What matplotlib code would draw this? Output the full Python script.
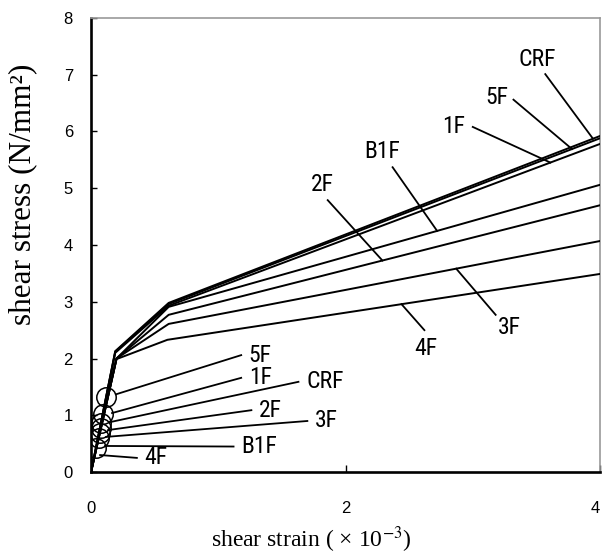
import matplotlib
matplotlib.use("Agg")
import matplotlib.pyplot as plt
import numpy as np
from matplotlib import font_manager

# series names and trilinear skeleton curves (strain x10^-3, stress N/mm2)
series = ["CRF", "5F", "1F", "B1F", "2F", "3F", "4F"]
knee1_strain = [0.19, 0.19, 0.19, 0.20, 0.20, 0.20, 0.20]
knee1_stress = [2.13, 2.12, 2.10, 2.00, 2.00, 2.00, 1.99]
knee2_strain = [0.61, 0.61, 0.61, 0.61, 0.61, 0.61, 0.60]
knee2_stress = [2.98, 2.96, 2.93, 2.91, 2.77, 2.61, 2.33]
end_strain = [4.0, 4.0, 4.0, 4.0, 4.0, 4.0, 4.0]
end_stress = [5.92, 5.88, 5.78, 5.06, 4.70, 4.07, 3.49]

# cracking stress marked with circles on the initial branch
crack_stress = [0.86, 1.32, 1.02, 0.60, 0.78, 0.69, 0.42]

# label layout: upper labels (text pos, leader start, strain where leader hits curve)
upper_text = {"CRF": (3.51, 7.26), "5F": (3.19, 6.59), "1F": (2.85, 6.08),
              "B1F": (2.29, 5.64), "2F": (1.82, 5.06), "3F": (3.29, 2.54),
              "4F": (2.63, 2.18)}
upper_from = {"CRF": (3.57, 7.01), "5F": (3.32, 6.56), "1F": (3.00, 6.08),
              "B1F": (2.37, 5.37), "2F": (1.86, 4.79), "3F": (3.18, 2.77),
              "4F": (2.62, 2.50)}
upper_hit = {"CRF": 3.945, "5F": 3.78, "1F": 3.61, "B1F": 2.72, "2F": 2.29,
             "3F": 2.87, "4F": 2.44}
# lower labels: leader start near circle, leader end (text starts right of it)
lower_from = {"5F": (0.196, 1.37), "1F": (0.165, 1.04), "CRF": (0.149, 0.88),
              "2F": (0.134, 0.74), "3F": (0.118, 0.62), "B1F": (0.11, 0.46),
              "4F": (0.071, 0.30)}
lower_end = {"5F": (1.18, 2.06), "1F": (1.18, 1.66), "CRF": (1.63, 1.59),
             "2F": (1.26, 1.09), "3F": (1.70, 0.90), "B1F": (1.12, 0.45),
             "4F": (0.36, 0.25)}

installed = {f.name for f in font_manager.fontManager.ttflist}
label_font = "Roboto"
for cand in ["Liberation Sans Narrow", "Roboto Condensed", "DejaVu Sans Condensed"]:
    if cand in installed:
        label_font = cand
        break

plt.rcParams["mathtext.fontset"] = "stix"

fig = plt.figure(figsize=(6.03, 5.60), dpi=100)
ax = fig.add_axes([0.151, 0.157, 0.844, 0.811])

curves = {}
for i, name in enumerate(series):
    xs = [0.0, knee1_strain[i], knee2_strain[i], end_strain[i]]
    ys = [0.0, knee1_stress[i], knee2_stress[i], end_stress[i]]
    curves[name] = (xs, ys)
    ax.plot(xs, ys, color="black", lw=1.4, solid_joinstyle="miter", zorder=3)

# crack points with leaders
for i, name in enumerate(series):
    xs, ys = curves[name]
    cy = crack_stress[i]
    cx = np.interp(cy, ys[:2], xs[:2])
    ax.plot(cx, cy, "o", ms=14, mfc="none", mec="black", mew=1.1, zorder=4)
    (sx, sy), (ex, ey) = lower_from[name], lower_end[name]
    ax.plot([sx, ex], [sy, ey], color="black", lw=1.3, zorder=3)
    ax.text(ex + 0.06, ey, name, fontsize=17, ha="left", va="center",
            family=label_font)

# upper labels
for name in series:
    xs, ys = curves[name]
    hx = upper_hit[name]
    hy = np.interp(hx, xs, ys)
    fx, fy = upper_from[name]
    ax.plot([fx, hx], [fy, hy], color="black", lw=1.3, zorder=3)
    tx, ty = upper_text[name]
    ax.text(tx, ty, name, fontsize=17, ha="center", va="center",
            family=label_font)

ax.set_xlim(0, 4)
ax.set_ylim(0, 8)
ax.set_xticks([0, 2, 4])
ax.set_yticks(range(0, 9))
ax.tick_params(axis="x", direction="in", length=5, width=1, pad=21,
               labelsize=12, labelfontfamily="Liberation Sans")
ax.tick_params(axis="y", direction="in", length=4, width=1, pad=13,
               labelsize=12, labelfontfamily="Liberation Sans")
# keep the last x tick label inside the figure
ax.get_xticklabels()[-1].set_ha("right")

for side in ["left", "bottom"]:
    ax.spines[side].set_linewidth(1.9)
    ax.spines[side].set_color("black")
for side in ["top", "right"]:
    ax.spines[side].set_linewidth(1.2)
    ax.spines[side].set_color("#999999")

ax.set_ylabel("shear stress (N/mm²)", fontsize=22.5, family="Liberation Serif")
ax.yaxis.set_label_coords(-0.105, 0.612)
ax.set_xlabel("shear strain ( × 10$^{-3}$)", fontsize=17, family="Liberation Serif")
ax.xaxis.set_label_coords(0.432, -0.115)

fig.savefig("out.png", dpi=100)
